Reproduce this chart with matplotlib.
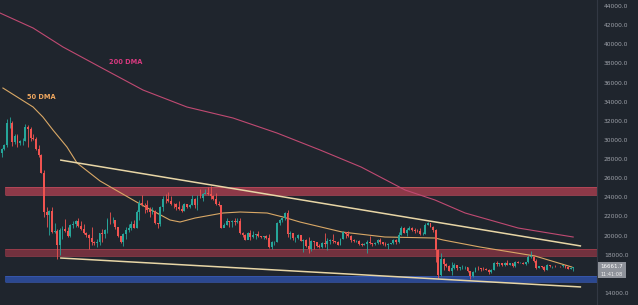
import numpy as np
import matplotlib
matplotlib.use("Agg")
import matplotlib.pyplot as plt
from matplotlib.patches import Rectangle

# ---------------- data (BTC daily, 28 May - 30 Dec 2022) ----------------
first_open = 28600
closes = [29030, 29470, 31730, 31800, 29800, 30450, 29700, 29860, 29910, 31370,
          31130, 30210, 30110, 29090, 28420, 26580, 22490, 22200, 22600, 20380,
          20470, 19000, 20550, 20700, 20470, 19970, 21100, 21230, 21500, 21030,
          20730, 20250, 20100, 19780, 19300, 19250, 19300, 20230, 20190, 20550,
          21630, 21580, 21590, 20860, 19970, 19330, 20210, 20570, 20830, 21200,
          20790, 22430, 23390, 23230, 23160, 22680, 22460, 22580, 21310, 21250,
          22950, 23850, 23800, 23650, 23300, 23270, 22980, 22820, 22620, 23310,
          22950, 23170, 23810, 23160, 23950, 23930, 24400, 24440, 24310, 24100,
          23850, 23340, 23210, 20830, 21140, 21520, 21400, 21530, 21370, 21570,
          20250, 20040, 19550, 20280, 19810, 20050, 20130, 19950, 19830, 19990,
          19800, 18790, 19290, 19320, 21360, 21650, 21830, 22400, 20180, 20240,
          19700, 19800, 20110, 19420, 19540, 18880, 18550, 19410, 19300, 18930,
          18800, 19230, 19080, 19410, 19590, 19430, 19310, 19050, 19630, 20340,
          20160, 19960, 19530, 19420, 19450, 19130, 19060, 19160, 19380, 19180,
          19070, 19270, 19550, 19330, 19120, 19040, 19170, 19200, 19570, 19330,
          20090, 20770, 20290, 20600, 20810, 20630, 20490, 20480, 20150, 20210,
          21150, 21300, 20910, 20590, 18540, 15880, 17590, 17040, 16850, 16330,
          16620, 16900, 16660, 16690, 16700, 16700, 16290, 15780, 16190, 16610,
          16600, 16520, 16460, 16440, 16220, 16440, 17170, 16980, 17090, 16890,
          17110, 16970, 17090, 16840, 17220, 17130, 17130, 17080, 17210, 17780,
          17800, 17360, 16630, 16780, 16740, 16440, 16900, 16820, 16830, 16780,
          16840, 16830, 16920, 16700, 16550, 16640, 16662]
highs = [29200, 29600, 32200, 32350, 31950, 30650, 30650, 29950, 30150, 31700,
         31550, 31300, 30650, 30350, 29450, 28550, 26900, 23000, 22700, 22950,
         21300, 20700, 20800, 21000, 21700, 20850, 21200, 21500, 21600, 21850,
         21500, 21180, 20400, 20150, 20850, 19400, 19650, 20300, 20700, 20650,
         21800, 22500, 21900, 21600, 20850, 20000, 20250, 20850, 21200, 21500,
         21650, 22700, 23750, 24250, 23400, 23750, 22990, 22980, 22650, 21330,
         23100, 24150, 24400, 24600, 24150, 23450, 23450, 23600, 23200, 23450,
         23300, 23350, 24200, 23900, 24200, 24900, 24450, 24880, 25050, 25200,
         24200, 24450, 23600, 23200, 21350, 21800, 21500, 21650, 21800, 21800,
         21800, 20350, 20150, 20400, 20550, 20450, 20200, 20450, 19950, 20000,
         20050, 20150, 19450, 19450, 21400, 21750, 21850, 22480, 22650, 20500,
         20300, 19900, 20150, 20100, 19650, 19600, 19900, 19500, 19450, 19300,
         19150, 19300, 20300, 19700, 19650, 20150, 19450, 19400, 19700, 20450,
         20350, 20450, 20050, 19600, 19550, 19500, 19250, 19200, 19500, 19950,
         19200, 19350, 19650, 19700, 19350, 19350, 19250, 19250, 19650, 19600,
         20400, 21000, 20850, 20750, 21050, 20900, 20800, 20700, 20800, 20400,
         21300, 21450, 21350, 21000, 20700, 18550, 18150, 17650, 17100, 16900,
         17200, 17100, 16950, 16750, 16900, 16800, 16750, 16300, 16250, 16700,
         16800, 16600, 16700, 16600, 16500, 16550, 17250, 17300, 17100, 17150,
         17200, 17450, 17120, 17100, 17300, 17350, 17200, 17250, 17250, 18000,
         18400, 17850, 17550, 16800, 16850, 16800, 17050, 16900, 16870, 16950,
         16850, 16850, 16950, 16950, 16780, 16650, 16700]
lows = [28250, 28900, 29300, 31200, 29400, 29600, 29300, 29500, 29500, 29900,
        29250, 29900, 29950, 28900, 28200, 26560, 21950, 20850, 20100, 20300,
        20250, 17600, 17950, 19650, 20350, 19850, 19900, 20750, 20950, 20950,
        20550, 20200, 19850, 18650, 19000, 18980, 18800, 19050, 19300, 19800,
        20250, 21200, 21350, 20700, 19900, 19250, 18900, 19650, 20400, 20550,
        20750, 20750, 21650, 23050, 22350, 22500, 21950, 22300, 21250, 20750,
        21050, 22600, 23450, 23550, 23200, 22900, 22700, 22700, 22450, 22600,
        22900, 22850, 23150, 22900, 22700, 23900, 23600, 24300, 24250, 23800,
        23700, 23200, 23100, 20800, 20850, 21100, 20900, 20900, 21150, 21350,
        20150, 19850, 19550, 19600, 19550, 19800, 19650, 19850, 19700, 19650,
        19650, 18700, 18550, 19050, 19300, 21100, 21400, 21600, 19900, 19650,
        19550, 19350, 19650, 19400, 18300, 18800, 18150, 18400, 18650, 18850,
        18700, 18700, 18850, 18500, 19100, 19200, 19200, 19000, 19000, 19600,
        19800, 19900, 19350, 19350, 19350, 19050, 18900, 19000, 18200, 19100,
        18950, 19050, 19150, 19100, 19050, 18900, 18650, 19100, 19100, 19150,
        19250, 20050, 20250, 20000, 20550, 20500, 20300, 20400, 20050, 20050,
        20200, 21100, 20900, 20400, 17200, 15600, 15750, 16400, 16700, 16250,
        15850, 16550, 16450, 16400, 16550, 16550, 16200, 15500, 15650, 16150,
        16450, 16350, 16400, 16400, 16000, 16100, 16450, 16850, 16800, 16850,
        16850, 16900, 16900, 16700, 16750, 17100, 17100, 17050, 16900, 17100,
        17650, 17250, 16550, 16600, 16650, 16300, 16400, 16750, 16600, 16750,
        16780, 16750, 16750, 16600, 16500, 16480, 16350]

# moving averages (day index, price)
dma200_idx = [-0.6, 11.9, 23.2, 37.2, 53.4, 70.0, 87.4, 104.0, 120.3, 135.8,
              152.4, 163.7, 175.1, 195.1, 215.9]
dma200_val = [43268, 41700, 39714, 37623, 35219, 33442, 32293, 30725, 28948,
              27170, 24766, 23721, 22362, 20794, 19853]
dma50_idx = [0.5, 11.9, 15.6, 19.4, 24.7, 28.5, 37.2, 52.3, 63.6, 67.4, 73.1,
             83.6, 90.1, 100.3, 106.3, 112.7, 128.6, 144.8, 163.7, 166.8,
             180.7, 201.5, 215.4]
dma50_val = [35428, 33443, 32397, 31038, 29261, 27589, 25707, 23303, 21631,
             21421, 21839, 22362, 22467, 22362, 21944, 21421, 20376, 19853,
             19748, 19540, 18808, 17867, 16717]

# wedge (trendlines) endpoints: (day index, price)
wedge_upper = [(22.1, 27900), (218.9, 18910)]
wedge_lower = [(22.1, 17660), (218.9, 14630)]

# horizontal zones (low, high)
zone_red_top = (24250, 25080)
zone_red_low = (17870, 18600)
zone_blue = (15150, 15780)

yticks = list(range(14000, 44001, 2000))
hidden_tick = 16000  # covered by the last-price box in the reference
last_price_label = "16661.7"
countdown_label = "11:41:08"

# ---------------- figure ----------------
BG = "#1f252d"
fig = plt.figure(figsize=(6.38, 3.05), dpi=100)
fig.patch.set_facecolor(BG)
ax = fig.add_axes([0, 0, 597 / 638, 1])
ax.set_facecolor(BG)

n = len(closes)
idx = np.arange(n)
opens = np.array([first_open] + closes[:-1], dtype=float)
c = np.array(closes, dtype=float)
h = np.array(highs, dtype=float)
l = np.array(lows, dtype=float)
up = c >= opens
UPC, DNC = "#26a69a", "#ef5350"
cols = np.where(up, UPC, DNC)

xmin, xmax = -0.6, 224.9
# zones
for (lo, hi), fc, ec in [(zone_red_top, "#9a3c4c", "#c44c5e"),
                         (zone_red_low, "#7c3341", "#a8404f"),
                         (zone_blue, "#2d4c9c", "#3a5cb8")]:
    ax.fill_between([1.3, xmax], lo, hi, color=fc, alpha=0.9, lw=0, zorder=1)
    ax.hlines([lo, hi], 1.3, xmax, color=ec, lw=0.6, alpha=0.8, zorder=1)

# moving averages
ax.plot(dma200_idx, dma200_val, color="#c04a72", lw=0.8, zorder=2)
ax.plot(dma50_idx, dma50_val, color="#d9a866", lw=0.8, zorder=2)

# candles
ax.vlines(idx, l, h, colors=cols, lw=0.6, zorder=3)
body_lo = np.minimum(opens, c)
body_h = np.maximum(np.abs(c - opens), 40)
ax.bar(idx, body_h, bottom=body_lo, width=0.72, color=cols, lw=0, zorder=4)

# wedge lines
for seg in (wedge_upper, wedge_lower):
    ax.plot([seg[0][0], seg[1][0]], [seg[0][1], seg[1][1]],
            color="#e8d6a6", lw=1.1, zorder=5, solid_capstyle="butt")

# labels
ax.text(47.0, 38146, "200 DMA", color="#d8397f", fontsize=4.8,
        fontweight="bold", ha="center", va="center", zorder=6)
ax.text(14.9, 34488, "50 DMA", color="#f0a860", fontsize=4.8,
        fontweight="bold", ha="center", va="center", zorder=6)

ax.set_xlim(xmin, xmax)
ax.set_ylim(12746, 44627)
ax.set_xticks([])
ax.yaxis.tick_right()
ax.set_yticks(yticks)
ax.set_yticklabels(["" if t == hidden_tick else f"{t:.1f}" for t in yticks])
ax.tick_params(axis="y", length=0, pad=5, labelsize=4.3, labelcolor="#9ea2aa")
for s in ("top", "bottom", "left"):
    ax.spines[s].set_visible(False)
ax.spines["right"].set_color("#323843")
ax.spines["right"].set_linewidth(0.8)

# last price box (price + countdown)
W, H = 638.0, 305.0
fig.patches.append(Rectangle((598 / W, 1 - 278 / H), 28 / W, 16 / H,
                             transform=fig.transFigure, fc="#8e929a",
                             ec="none", zorder=10))
fig.text(612 / W, 1 - 266 / H, last_price_label, color="white",
         fontsize=4.0, ha="center", va="center", zorder=11)
fig.text(612 / W, 1 - 274 / H, countdown_label, color="#f0f0f0",
         fontsize=3.6, ha="center", va="center", zorder=11)

fig.savefig("out.png", dpi=100, facecolor=BG)
